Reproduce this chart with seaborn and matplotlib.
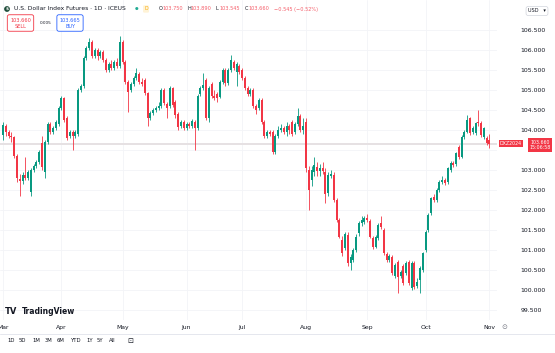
import pandas as pd
import matplotlib.pyplot as plt
import seaborn as sns
import numpy as np
from matplotlib.lines import Line2D

# --- datos diarios (Mar - Nov) ---
opens = [
    103.88, 104.10, 103.95, 103.85, 103.82, 103.35, 102.78, 102.72, 102.88, 102.80,
    102.45, 103.00, 103.10, 103.20, 103.68, 102.95, 103.70, 104.15, 103.95, 104.05,
    104.15, 104.55, 104.80, 104.30, 103.85, 103.95, 103.85, 103.90, 105.00, 105.10,
    105.80, 106.05, 106.20, 105.85, 106.00, 105.85, 105.95, 105.75, 105.50, 105.65,
    105.55, 105.70, 105.60, 106.20, 105.70, 105.20, 105.00, 105.15, 105.30, 105.40,
    105.20, 105.25, 104.92, 104.30, 104.42, 104.50, 104.55, 104.60, 105.00, 104.65,
    104.60, 105.04, 104.70, 104.40, 104.10, 104.20, 104.05, 104.15, 104.10, 104.20,
    104.05, 104.90, 105.05, 105.25, 104.30, 105.15, 104.85, 104.90, 104.83, 105.20,
    105.50, 105.17, 105.50, 105.70, 105.45, 105.60, 105.50, 105.30, 105.05, 104.90,
    105.00, 104.60, 104.55, 104.75, 104.20, 103.85, 103.95, 103.95, 103.45, 103.85,
    104.00, 104.05, 103.95, 104.10, 104.20, 103.95, 104.15, 104.35, 104.00, 104.20,
    103.00, 102.75, 102.96, 103.08, 102.98, 103.05, 102.96, 102.42, 102.85, 102.88,
    102.25, 101.75, 101.25, 101.05, 101.38, 100.67, 100.75, 101.00, 101.42, 101.67,
    101.70, 101.80, 101.72, 101.30, 101.08, 101.30, 101.67, 101.50, 100.90, 100.75,
    100.83, 100.35, 100.71, 100.35, 100.60, 100.42, 100.71, 100.05, 100.67, 100.10,
    100.25, 100.50, 101.00, 101.50, 101.92, 102.33, 102.25, 102.50, 102.71, 102.75,
    102.70, 103.00, 103.17, 103.15, 103.58, 103.33, 103.83, 103.96, 104.29, 103.95,
    103.92, 104.21, 104.17, 103.83, 103.79, 103.75,
]
highs = [
    104.20, 104.15, 104.00, 103.95, 103.85, 103.40, 102.90, 102.95, 103.32, 103.00,
    103.05, 103.15, 103.25, 103.50, 103.85, 103.75, 104.20, 104.20, 104.10, 104.25,
    104.60, 104.85, 104.82, 104.35, 104.00, 104.00, 104.00, 105.05, 105.15, 105.85,
    106.10, 106.30, 106.25, 106.05, 106.05, 106.00, 106.00, 105.80, 105.70, 105.75,
    105.75, 105.80, 106.35, 106.25, 105.75, 105.25, 105.20, 105.35, 105.55, 105.45,
    105.30, 105.30, 104.95, 104.47, 104.55, 104.60, 104.70, 105.05, 105.05, 104.70,
    105.10, 105.08, 104.75, 104.45, 104.25, 104.25, 104.20, 104.20, 104.28, 104.25,
    104.90, 105.10, 105.42, 105.30, 105.10, 105.20, 105.00, 104.95, 105.25, 105.55,
    105.55, 105.55, 105.88, 105.75, 105.70, 105.65, 105.55, 105.35, 105.10, 105.05,
    105.05, 104.65, 104.80, 104.80, 104.25, 104.00, 104.00, 104.00, 103.90, 104.10,
    104.15, 104.10, 104.20, 104.15, 104.25, 104.20, 104.55, 104.40, 104.30, 104.30,
    103.10, 103.10, 103.33, 103.20, 103.15, 103.20, 103.05, 102.95, 103.00, 102.95,
    102.30, 101.80, 101.35, 101.45, 101.45, 100.90, 101.05, 101.40, 101.72, 101.85,
    101.85, 101.90, 101.78, 101.35, 101.38, 101.68, 101.85, 101.55, 100.95, 100.90,
    100.88, 100.68, 100.75, 100.50, 100.65, 100.72, 100.75, 100.72, 100.72, 100.30,
    100.60, 100.96, 101.50, 101.92, 102.33, 102.40, 102.55, 102.75, 102.85, 102.80,
    103.08, 103.22, 103.22, 103.46, 103.62, 103.88, 104.00, 104.38, 104.32, 104.10,
    104.20, 104.50, 104.22, 104.08, 103.85, 103.89,
]
lows = [
    103.75, 103.85, 103.80, 103.70, 103.30, 102.70, 102.35, 102.65, 102.75, 102.75,
    102.35, 102.95, 103.05, 103.15, 103.00, 102.80, 103.65, 103.90, 103.90, 104.00,
    104.10, 104.50, 104.20, 103.75, 103.80, 103.50, 103.80, 103.85, 104.95, 105.05,
    105.75, 106.00, 105.80, 105.80, 105.75, 105.80, 105.70, 105.45, 105.45, 105.50,
    105.50, 105.55, 105.55, 105.65, 105.15, 104.45, 104.95, 105.10, 105.25, 105.15,
    105.10, 104.88, 104.10, 104.25, 104.38, 104.45, 104.50, 104.55, 104.62, 104.30,
    104.55, 104.58, 104.30, 104.00, 104.05, 104.00, 104.00, 104.05, 104.05, 103.50,
    104.00, 104.85, 105.00, 104.25, 104.20, 104.80, 104.75, 104.70, 104.80, 105.15,
    105.10, 105.12, 105.45, 105.50, 105.10, 105.40, 105.25, 105.00, 104.85, 104.85,
    104.55, 104.40, 104.50, 104.15, 103.80, 103.80, 103.85, 103.40, 103.40, 103.80,
    103.95, 103.90, 103.85, 103.90, 103.85, 103.90, 104.10, 103.95, 103.90, 102.95,
    102.00, 102.60, 102.85, 102.85, 102.85, 102.90, 102.17, 102.35, 102.80, 102.20,
    101.70, 101.30, 100.85, 101.00, 100.60, 100.50, 100.70, 100.95, 101.35, 101.60,
    101.65, 101.70, 101.30, 101.02, 101.05, 101.25, 101.52, 100.88, 100.70, 100.70,
    100.38, 100.30, 99.92, 100.30, 100.12, 100.38, 100.12, 100.00, 100.02, 100.05,
    99.92, 100.45, 100.95, 101.45, 101.88, 102.20, 102.20, 102.45, 102.65, 102.62,
    102.65, 102.95, 103.08, 103.10, 103.28, 103.30, 103.78, 103.92, 103.88, 103.90,
    103.88, 104.10, 103.83, 103.78, 103.62, 103.545,
]
closes = [
    104.12, 103.95, 103.85, 103.82, 103.35, 102.80, 102.72, 102.88, 102.80, 102.95,
    103.00, 103.10, 103.20, 103.45, 103.08, 103.70, 104.15, 103.95, 104.05, 104.20,
    104.55, 104.80, 104.25, 103.80, 103.95, 103.85, 103.95, 105.00, 105.10, 105.80,
    106.05, 106.20, 105.85, 106.00, 105.85, 105.95, 105.75, 105.50, 105.65, 105.55,
    105.70, 105.60, 106.20, 105.70, 105.20, 104.95, 105.15, 105.30, 105.42, 105.20,
    105.15, 104.92, 104.30, 104.42, 104.50, 104.55, 104.60, 105.00, 104.67, 104.55,
    105.04, 104.62, 104.38, 104.08, 104.20, 104.05, 104.15, 104.10, 104.22, 104.05,
    104.85, 105.05, 105.12, 104.30, 105.05, 104.85, 104.80, 104.80, 105.20, 105.50,
    105.17, 105.50, 105.75, 105.55, 105.65, 105.45, 105.30, 105.05, 104.90, 105.00,
    104.60, 104.50, 104.75, 104.20, 103.85, 103.95, 103.90, 103.45, 103.85, 104.00,
    104.05, 103.95, 104.10, 104.00, 103.90, 104.15, 104.35, 104.00, 104.10, 103.05,
    102.50, 103.00, 103.12, 102.98, 103.05, 102.98, 102.40, 102.87, 102.90, 102.25,
    101.75, 101.33, 100.92, 101.40, 100.67, 100.83, 101.00, 101.33, 101.67, 101.75,
    101.80, 101.75, 101.33, 101.08, 101.33, 101.63, 101.58, 100.92, 100.75, 100.85,
    100.42, 100.63, 100.33, 100.45, 100.17, 100.67, 100.17, 100.67, 100.08, 100.20,
    100.54, 100.92, 101.46, 101.88, 102.29, 102.25, 102.50, 102.71, 102.75, 102.68,
    103.04, 103.17, 103.12, 103.42, 103.33, 103.83, 103.96, 104.25, 103.92, 104.05,
    104.17, 104.17, 103.88, 104.04, 103.67, 103.66,
]
month_labels = ['Mar', 'Apr', 'May', 'Jun', 'Jul', 'Aug', 'Sep', 'Oct', 'Nov']
month_pos = [0, 21, 43, 66, 86, 109, 131, 152, 175]
price_ticks = [99.5, 100.0, 100.5, 101.0, 101.5, 102.0, 102.5, 103.0,
               103.5, 104.0, 104.5, 105.0, 105.5, 106.0, 106.5]
range_buttons = ['1D', '5D', '1M', '3M', '6M', 'YTD', '1Y', '5Y', 'All']

df = pd.DataFrame({'open': opens, 'high': highs, 'low': lows, 'close': closes})
df['idx'] = np.arange(len(df))
df['up'] = df['close'] >= df['open']
last_close = df['close'].iloc[-1]

sns.set_theme(style='white')
plt.rcParams['font.family'] = ['DejaVu Sans']

W, H = 555, 353
def px(x, y):
    return x / W, 1 - y / H

fig = plt.figure(figsize=(W / 100, H / 100), dpi=100)
fig.patch.set_facecolor('white')
ax = fig.add_axes([0, 1 - 320 / H, 497 / W, 320 / H])
ax.set_xlim(-1.1, 177.7)
ax.set_ylim(99.25, 107.25)

UP, DOWN = '#089981', '#f23645'
colors = np.where(df['up'], UP, DOWN)

# rejilla tenue
for v in price_ticks:
    ax.axhline(v, color='#f3f4f7', lw=0.6, zorder=0)
for m in month_pos:
    ax.axvline(m, color='#f3f4f7', lw=0.6, zorder=0)
# linea de precio actual
ax.axhline(last_close, color='#e6e1e3', lw=1.4, zorder=0.5)

# velas
ax.vlines(df['idx'], df['low'], df['high'], colors=colors, lw=0.6, zorder=2)
body = (df['close'] - df['open']).abs().clip(lower=0.025)
ax.bar(df['idx'], body, bottom=df[['open', 'close']].min(axis=1), width=0.72,
       color=colors, linewidth=0, zorder=3)

# la etiqueta de 103.500 queda tapada por el recuadro del precio actual
ax.yaxis.tick_right()
ax.set_yticks(price_ticks)
ax.set_yticklabels(['' if abs(v - last_close) < 0.2 else f'{v:.3f}' for v in price_ticks])
ax.set_xticks(month_pos)
ax.set_xticklabels(month_labels)
ax.tick_params(axis='y', length=0, pad=17, labelsize=4.4, labelcolor='#131722')
ax.tick_params(axis='x', length=0, pad=3.5, labelsize=4.4, labelcolor='#131722')
sns.despine(ax=ax, left=True, bottom=True, right=True, top=True)
ax.set_xlabel('')
ax.set_ylabel('')

# etiquetas de precio a la derecha
fig.text(*px(511, 143.5), 'DXZ2024', fontsize=3.4, color='white', ha='center', va='center',
         bbox=dict(boxstyle='square,pad=0.3', fc=DOWN, ec='none'))
fig.text(*px(540, 145), '103.660\n15:06:58', fontsize=3.4, color='white', ha='center',
         va='center', linespacing=1.1,
         bbox=dict(boxstyle='square,pad=0.3', fc=DOWN, ec='none'))

# cabecera
fig.text(*px(7, 9), '$', fontsize=3.2, color='white', ha='center', va='center', weight='bold',
         bbox=dict(boxstyle='circle,pad=0.2', fc='#1f4d3a', ec='none'))
fig.text(*px(14, 9), 'U.S. Dollar Index Futures · 1D · ICEUS', fontsize=4.3,
         color='#131722', va='center')
fig.text(*px(137, 9), '●', fontsize=3, color='#22ab94', ha='center', va='center')
fig.text(*px(146, 9), 'D', fontsize=3.3, color='#f7a600', ha='center', va='center',
         bbox=dict(boxstyle='round,pad=0.25', fc='#fff3d6', ec='none'))
ohlc = [('O', '103.750', 159), ('H', '103.890', 187), ('L', '103.545', 216), ('C', '103.660', 245)]
for letter, val, xp in ohlc:
    fig.text(*px(xp, 9), letter, fontsize=3.6, color='#131722', va='center')
    fig.text(*px(xp + 3.5, 9), val, fontsize=3.6, color=DOWN, va='center', alpha=0.8)
fig.text(*px(274, 9), '−0.545 (−0.52%)', fontsize=3.6, color=DOWN, va='center', alpha=0.8)

fig.text(*px(20.5, 23), '103.660\nSELL', fontsize=3.6, color=DOWN, ha='center', va='center',
         linespacing=1.25,
         bbox=dict(boxstyle='round,pad=0.55,rounding_size=0.4', fc='white', ec=DOWN, lw=0.6))
fig.text(*px(46, 23), '0.005', fontsize=3.0, color='#131722', ha='center', va='center')
fig.text(*px(70, 23), '103.665\nBUY', fontsize=3.6, color='#2962ff', ha='center', va='center',
         linespacing=1.25,
         bbox=dict(boxstyle='round,pad=0.55,rounding_size=0.4', fc='white', ec='#2962ff', lw=0.6))
fig.text(*px(537, 11), 'USD   ▾', fontsize=3.6, color='#131722', ha='center', va='center',
         bbox=dict(boxstyle='round,pad=0.4', fc='white', ec='#d1d4dc', lw=0.5))

# logo y barra inferior
fig.text(*px(5, 312), 'TV', fontsize=6, color='#131722', va='center', weight='heavy')
fig.text(*px(22, 312), 'TradingView', fontsize=5.5, color='#131722', va='center', weight='bold')
fig.text(*px(504, 327), '⊙', fontsize=5, color='#787b86', ha='center', va='center')
fig.add_artist(Line2D([0, 1], [1 - 334 / H] * 2, color='#e0e3eb', lw=0.6))
for lab, xp in zip(range_buttons, [7, 19, 32, 45, 57, 71, 86, 97, 109]):
    fig.text(*px(xp, 341), lab, fontsize=3.8, color='#131722', va='center')
fig.text(*px(130, 341), '⊡', fontsize=5, color='#131722', ha='center', va='center')

fig.savefig('out.png', dpi=100)
